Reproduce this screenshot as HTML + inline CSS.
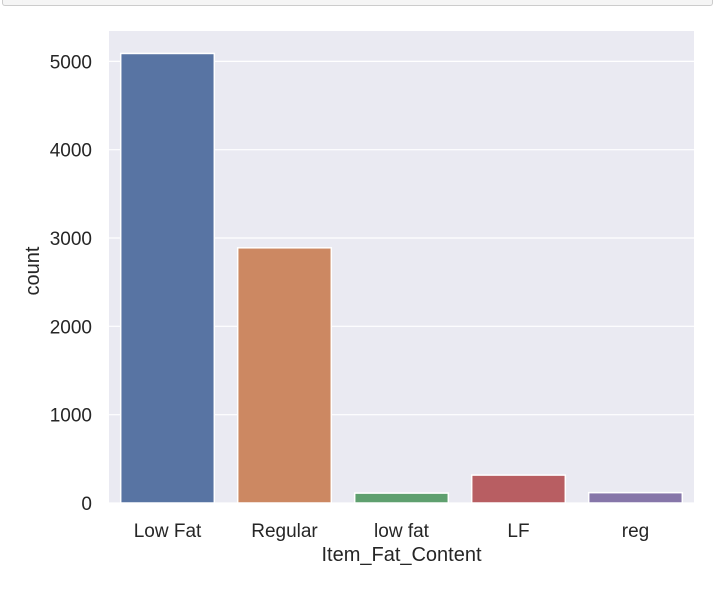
<!DOCTYPE html>
<html><head><meta charset="utf-8"><style>
body{margin:0;background:#fff;width:713px;height:599px;overflow:hidden;font-family:"Liberation Sans",Arial,sans-serif}
</style></head><body>
<div style="position:absolute;left:2px;top:-2px;width:709px;height:7px;background:#f5f5f5;border:1px solid #ccc;border-top:none;border-radius:0 0 3px 3px"></div>
<svg id="chart" width="713" height="599" style="position:absolute;left:0;top:0"></svg>
<script>
const categories=["Low Fat","Regular","low fat","LF","reg"];
const counts=[5089,2889,112,316,117];
const colors=["#5874a3","#cc8862","#5fa06f","#b85e62","#8676a9"];
const yTicks=[0,1000,2000,3000,4000,5000];
const NS="http://www.w3.org/2000/svg";
const svg=document.getElementById('chart');
const L=109,R=694,T=31,B=503;
const ymax=Math.max(...counts)*1.05;
const y=v=>B-v*(B-T)/ymax;
const band=(R-L)/categories.length;
const x=i=>L+band*i+band/2;
function mk(t,a){const e=document.createElementNS(NS,t);for(const k in a)e.setAttribute(k,a[k]);svg.appendChild(e);return e;}
let bg=mk('rect',{x:L,y:T,width:R-L,height:B-T,fill:'#eaeaf2'});


yTicks.forEach(v=>{
 let g=mk('line',{x1:L,x2:R,y1:y(v),y2:y(v),stroke:'#fff','stroke-width':1.2});
 
 
 let t=mk('text',{x:92,y:y(v)+7,'text-anchor':'end','font-size':19,fill:'#262626'});
 t.textContent=v;
 
 
});
categories.forEach((c,i)=>{
 const w=band*0.8;
 let r=mk('rect',{x:x(i)-w/2,y:y(counts[i]),width:w,height:B-y(counts[i]),fill:colors[i],stroke:'#fff','stroke-width':1.5});
 
 
 let t=mk('text',{x:x(i),y:537,'text-anchor':'middle','font-size':19,fill:'#262626'});
 t.textContent=c;
 
 
});
let xt=mk('text',{x:(L+R)/2,y:561,'text-anchor':'middle','font-size':20,fill:'#262626'});
xt.textContent='Item_Fat_Content';


let yt=mk('text',{x:0,y:0,'text-anchor':'middle','font-size':20,fill:'#262626',transform:`translate(39,${(T+B)/2+4}) rotate(-90)`});
yt.textContent='count';


</script>
</body></html>
